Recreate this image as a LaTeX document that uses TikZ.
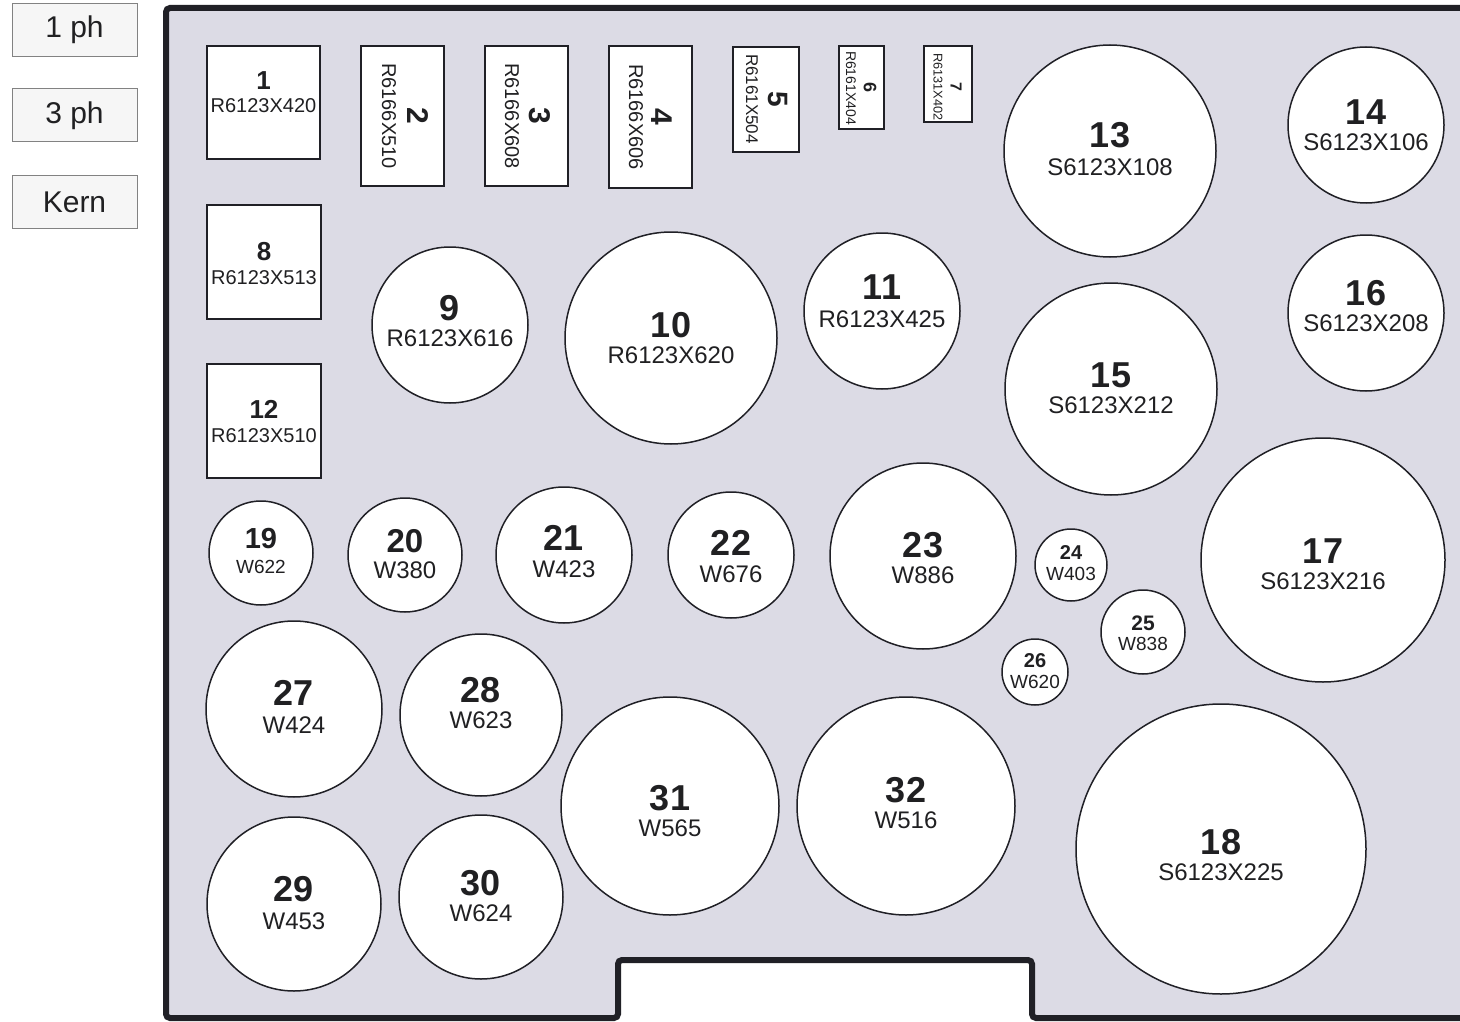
\documentclass[tikz,border=0pt]{standalone}
\usepackage{fontspec}
\setmainfont{Liberation Sans}
\definecolor{panel}{RGB}{220,219,229}
\definecolor{ink}{RGB}{32,32,34}
\definecolor{edge}{RGB}{32,32,38}
\definecolor{btnedge}{RGB}{130,130,130}
\definecolor{btnfill}{RGB}{246,246,246}
\tikzset{
  shapeline/.style={draw=edge, line width=1.5pt, fill=white},
  circ/.style={shapeline, circle, inner sep=0pt},
  rbox/.style={shapeline, rectangle, inner sep=0pt},
  txt/.style={inner sep=0pt, text=ink},
  nL/.style={txt, font=\fontsize{36}{36}\selectfont\bfseries},
  lL/.style={txt, font=\fontsize{24}{24}\selectfont},
  nM/.style={txt, font=\fontsize{33}{33}\selectfont\bfseries},
  lM/.style={txt, font=\fontsize{24}{24}\selectfont},
  nS/.style={txt, font=\fontsize{29}{29}\selectfont\bfseries},
  lS/.style={txt, font=\fontsize{19}{19}\selectfont},
  nT/.style={txt, font=\fontsize{20}{20}\selectfont\bfseries},
  lT/.style={txt, font=\fontsize{19}{19}\selectfont},
  nU/.style={txt, font=\fontsize{21}{21}\selectfont\bfseries},
  lU/.style={txt, font=\fontsize{19}{19}\selectfont},
  nR/.style={txt, font=\fontsize{26}{26}\selectfont\bfseries},
  lR/.style={txt, font=\fontsize{20}{20}\selectfont},
  btn/.style={draw=btnedge, line width=1pt, fill=btnfill, inner sep=0pt,
    minimum width=125pt, minimum height=53pt, text=ink,
    font=\fontsize{30}{30}\selectfont},
}
% circle: name, cx, cy, r, number, label, number baseline, label baseline, class
\newcommand\cmark[9]{%
  \node[circ, minimum size={2*#4*1pt}] (#1) at (#2,#3) {};
  \node[n#9, anchor=base] (#1n) at (#2,#7) {#5};
  \node[l#9, anchor=base] (#1l) at (#2,#8) {#6};
}
% square box: name, x1, y1, x2, y2, number, label, number baseline, label baseline
\newcommand\smark[9]{%
  \node[rbox, minimum width={(#4-#2)*1pt}, minimum height={(#5-#3)*1pt}] (#1) at ({(#2+#4)/2},{(#3+#5)/2}) {};
  \node[nR, anchor=base] (#1n) at ({(#2+#4)/2},#8) {#6};
  \node[lR, anchor=base] (#1l) at ({(#2+#4)/2},#9) {#7};
}
% upright box: name, x1, y1, x2, y2
\newcommand\uprbox[5]{%
  \node[rbox, minimum width={(#4-#2)*1pt}, minimum height={(#5-#3)*1pt}] (#1) at ({(#2+#4)/2},{(#3+#5)/2}) {};
}
\begin{document}
\begin{tikzpicture}[x=1pt,y=-1pt]
\useasboundingbox (0,0) rectangle (1460,1022);
\clip (0,0) rectangle (1460,1022);
\fill[white] (0,0) rectangle (1460,1022);

% panel
\fill[panel] (166,8) -- (1480,8) -- (1480,1018) -- (1032,1018) -- (1032,960) -- (618,960) -- (618,1018) -- (166,1018) -- cycle;
\draw[edge, line width=6pt, rounded corners=4pt] (1480,8) -- (166,8) -- (166,1018) -- (618,1018) -- (618,960) -- (1032,960) -- (1032,1018) -- (1480,1018);

% buttons
\node[btn] (b1) at (74.5,30) {1 ph};
\node[btn] (b3) at (74.5,115.5) {3 ph};
\node[btn] (bk) at (74.5,202) {Kern};

% square boxes
\smark{r1}{207}{46}{320}{159}{1}{R6123X420}{90}{113}
\smark{r8}{207}{205}{321}{319}{8}{R6123X513}{260}{284}
\smark{r12}{207}{364}{321}{478}{12}{R6123X510}{418}{442}

% upright boxes with turned text
\uprbox{r2}{361}{46}{444}{186}
\node[txt, rotate=-90, font=\fontsize{20}{20}\selectfont] (r2l) at (389,116) {R6166X510};
\node[txt, rotate=-90, font=\fontsize{30}{30}\selectfont\bfseries] (r2n) at (418,116) {2};
\uprbox{r3}{485}{46}{568}{186}
\node[txt, rotate=-90, font=\fontsize{20}{20}\selectfont] (r3l) at (512,116) {R6166X608};
\node[txt, rotate=-90, font=\fontsize{30}{30}\selectfont\bfseries] (r3n) at (540,116) {3};
\uprbox{r4}{609}{46}{692}{188}
\node[txt, rotate=-90, font=\fontsize{20}{20}\selectfont] (r4l) at (636,117) {R6166X606};
\node[txt, rotate=-90, font=\fontsize{30}{30}\selectfont\bfseries] (r4n) at (662,117) {4};
\uprbox{r5}{733}{47}{799}{152}
\node[txt, rotate=-90, font=\fontsize{17}{17}\selectfont] (r5l) at (752,99) {R6161X504};
\node[txt, rotate=-90, font=\fontsize{28}{28}\selectfont\bfseries] (r5n) at (778,99) {5};
\uprbox{r6}{839}{46}{884}{129}
\node[txt, rotate=-90, font=\fontsize{14}{14}\selectfont] (r6l) at (851,88) {R6161X404};
\node[txt, rotate=-90, font=\fontsize{18}{18}\selectfont\bfseries] (r6n) at (870,88) {6};
\uprbox{r7}{924}{46}{972}{122}
\node[txt, rotate=-90, font=\fontsize{12.7}{13}\selectfont] (r7l) at (938,87) {R6131X402};
\node[txt, rotate=-90, font=\fontsize{16}{16}\selectfont\bfseries] (r7n) at (956,87) {7};

% circles
\cmark{c9}{450}{325}{78}{9}{R6123X616}{320}{346}{L}
\cmark{c10}{671}{338}{106}{10}{R6123X620}{337}{363}{L}
\cmark{c11}{882}{311}{78}{11}{R6123X425}{299}{327}{L}
\cmark{c13}{1110}{151}{106}{13}{S6123X108}{148}{176}{L}
\cmark{c14}{1366}{125}{78}{14}{S6123X106}{125}{151}{L}
\cmark{c15}{1111}{389}{106}{15}{S6123X212}{387}{413}{L}
\cmark{c16}{1366}{313}{78}{16}{S6123X208}{305}{331}{L}
\cmark{c17}{1323}{560}{122}{17}{S6123X216}{563}{589}{L}
\cmark{c18}{1221}{849}{145}{18}{S6123X225}{854}{880}{L}
\cmark{c19}{261}{553}{52}{19}{W622}{548}{573}{S}
\cmark{c20}{405}{555}{57}{20}{W380}{552}{578}{M}
\cmark{c21}{564}{555}{68}{21}{W423}{550}{577}{L}
\cmark{c22}{731}{555}{63}{22}{W676}{555}{582}{L}
\cmark{c23}{923}{556}{93}{23}{W886}{557}{583}{L}
\cmark{c24}{1071}{565}{36}{24}{W403}{559}{580}{T}
\cmark{c25}{1143}{632}{42}{25}{W838}{630}{650}{U}
\cmark{c26}{1035}{672}{33}{26}{W620}{667}{688}{T}
\cmark{c27}{294}{709}{88}{27}{W424}{705}{733}{L}
\cmark{c28}{481}{715}{81}{28}{W623}{702}{728}{L}
\cmark{c29}{294}{904}{87}{29}{W453}{901}{929}{L}
\cmark{c30}{481}{897}{82}{30}{W624}{895}{921}{L}
\cmark{c31}{670}{806}{109}{31}{W565}{810}{836}{L}
\cmark{c32}{906}{806}{109}{32}{W516}{802}{828}{L}
\end{tikzpicture}
\end{document}
